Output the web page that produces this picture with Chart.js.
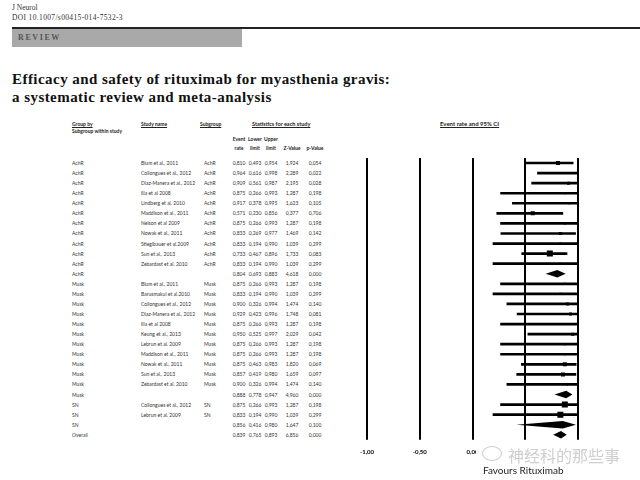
<!DOCTYPE html>
<html>
<head>
<meta charset="utf-8">
<script src="https://cdn.jsdelivr.net/npm/chart.js@4.4.1/dist/chart.umd.min.js"></script>
<style>
html, body { margin: 0; padding: 0; background: #fff; }
body { width: 640px; height: 480px; position: relative; overflow: hidden; font-family: Lato, "Open Sans", sans-serif; color: #222; }
.abs { position: absolute; white-space: nowrap; }
#journal { left: 12px; top: 3px; font: 7.5px "Liberation Serif", serif; color: #333; }
#doi { left: 12px; top: 13px; font: 7.5px "Liberation Serif", serif; color: #333; letter-spacing: 0.35px; }
#rule { left: 12px; top: 27px; width: 628px; height: 2px; background: #222; }
#review { left: 12px; top: 29px; width: 230px; height: 18px; background: #a9a9a9; }
#review span { position: absolute; left: 6px; top: 4px; font: bold 8px "Liberation Serif", serif; letter-spacing: 1.6px; color: #555; }
#title { left: 12px; top: 70px; font: bold 15px "Liberation Serif", serif; line-height: 18px; letter-spacing: 0.45px; color: #111; }
.th { font-size: 5px; font-weight: bold; line-height: 6px; color: #222; }
.u { text-decoration: underline; }
.cell { font-size: 5px; line-height: 8px; color: #333; }
.num { width: 20px; text-align: center; }
#chartWrap { position: absolute; left: 350px; top: 150px; width: 250px; height: 311px; }
#favours { left: 483px; top: 464px; font-size: 10px; color: #222; }
#wm { left: 476px; top: 443px; width: 150px; height: 20px; background: rgba(255,255,255,0.9); }
#wm span { position: absolute; left: 32px; top: 0px; font: 16px "Noto Sans CJK SC", sans-serif; color: #cfcfcf; }
#wm i { position: absolute; left: 6px; top: 3px; width: 18px; height: 13px; border: 1px solid #cfcfcf; border-radius: 50%; }
</style>
</head>
<body>
<div class="abs" id="journal">J Neurol</div>
<div class="abs" id="doi">DOI 10.1007/s00415-014-7532-3</div>
<div class="abs" id="rule"></div>
<div class="abs" id="review"><span>REVIEW</span></div>
<div class="abs" id="title">Efficacy and safety of rituximab for myasthenia gravis:<br>a systematic review and meta-analysis</div>

<div class="abs th u" style="left:72px;top:121px">Group by</div>
<div class="abs th u" style="left:141px;top:121px">Study name</div>
<div class="abs th u" style="left:200px;top:121px">Subgroup</div>
<div class="abs th u" style="left:252px;top:121px;font-size:5.5px">Statistics for each study</div>
<div class="abs th" style="left:72px;top:128px">Subgroup within study</div>
<div class="abs th num" style="left:229px;top:136px">Event</div>
<div class="abs th num" style="left:245px;top:136px">Lower</div>
<div class="abs th num" style="left:261px;top:136px">Upper</div>
<div class="abs th num" style="left:229px;top:145px">rate</div>
<div class="abs th num" style="left:245px;top:145px">limit</div>
<div class="abs th num" style="left:261px;top:145px">limit</div>
<div class="abs th num" style="left:282px;top:145px">Z-Value</div>
<div class="abs th num" style="left:305px;top:145px">p-Value</div>
<div class="abs th u" style="left:440px;top:121px;font-size:6px">Event rate and 95% CI</div>

<div id="table"></div>
<div id="chartWrap"><canvas id="forest" width="250" height="311"></canvas></div>
<div class="abs" id="wm"><i></i><span>神经科的那些事</span></div>
<div class="abs" id="favours">Favours Rituximab</div>

<script>
// ========== DADOS ==========
const groupBy = [
    'AchR', 'AchR', 'AchR', 'AchR', 'AchR', 'AchR', 'AchR', 'AchR', 'AchR', 'AchR', 'AchR', 'AchR',
    'Musk', 'Musk', 'Musk', 'Musk', 'Musk', 'Musk', 'Musk', 'Musk', 'Musk', 'Musk', 'Musk', 'Musk',
    'SN', 'SN', 'SN',
    'Overall'
];
const studyNames = [
    'Blum et al., 2011', 'Collongues et al., 2012', 'Diaz-Manera et al., 2012', 'Illa et al 2008',
    'Lindberg et al. 2010', 'Maddison et al., 2011', 'Nelson et al 2009', 'Nowak et al., 2011',
    'Stieglbauer et al.2009', 'Sun et al., 2013', 'Zebardast et al. 2010', '',
    'Blum et al., 2011', 'Barusmakul et al.2010', 'Collongues et al., 2012', 'Diaz-Manera et al., 2012',
    'Illa et al 2008', 'Keung et al., 2013', 'Lebrun et al. 2009', 'Maddison et al., 2011',
    'Nowak et al., 2011', 'Sun et al., 2013', 'Zebardast et al. 2010', '',
    'Collongues et al., 2012', 'Lebrun et al. 2009', '',
    ''
];
const subgroups = [
    'AchR', 'AchR', 'AchR', 'AchR', 'AchR', 'AchR', 'AchR', 'AchR', 'AchR', 'AchR', 'AchR', '',
    'Musk', 'Musk', 'Musk', 'Musk', 'Musk', 'Musk', 'Musk', 'Musk', 'Musk', 'Musk', 'Musk', '',
    'SN', 'SN', '',
    ''
];
const eventRate = [
    0.810, 0.964, 0.909, 0.875, 0.917, 0.571, 0.875, 0.833, 0.833, 0.733, 0.833, 0.804,
    0.875, 0.833, 0.900, 0.929, 0.875, 0.950, 0.875, 0.875, 0.875, 0.857, 0.900, 0.888,
    0.875, 0.833, 0.856,
    0.839
];
const lowerLimit = [
    0.493, 0.616, 0.561, 0.266, 0.378, 0.230, 0.266, 0.269, 0.194, 0.467, 0.194, 0.693,
    0.266, 0.194, 0.326, 0.423, 0.266, 0.525, 0.266, 0.266, 0.463, 0.419, 0.326, 0.778,
    0.266, 0.194, 0.416,
    0.765
];
const upperLimit = [
    0.954, 0.998, 0.987, 0.993, 0.995, 0.856, 0.993, 0.977, 0.990, 0.896, 0.990, 0.883,
    0.993, 0.990, 0.994, 0.996, 0.993, 0.997, 0.993, 0.993, 0.983, 0.980, 0.994, 0.947,
    0.993, 0.990, 0.980,
    0.893
];
const zValue = [
    1.924, 2.289, 2.195, 1.287, 1.623, 0.377, 1.287, 1.469, 1.039, 1.733, 1.039, 4.618,
    1.287, 1.039, 1.474, 1.748, 1.287, 2.029, 1.287, 1.287, 1.820, 1.659, 1.474, 4.960,
    1.287, 1.039, 1.647,
    6.856
];
const pValue = [
    0.054, 0.022, 0.028, 0.198, 0.105, 0.706, 0.198, 0.142, 0.299, 0.083, 0.299, 0.000,
    0.198, 0.299, 0.140, 0.081, 0.198, 0.042, 0.198, 0.198, 0.069, 0.097, 0.140, 0.000,
    0.198, 0.299, 0.100,
    0.000
];
// peso relativo de cada estudo (tamanho do quadrado)
const studyWeight = [
    4, 2, 3, 2, 2, 4, 2, 3, 2, 6, 2, 0,
    2, 2, 3, 3, 2, 3, 2, 2, 4, 4, 2, 0,
    6, 6, 0,
    0
];
const axisTicks = [-1, -0.5, 0, 0.5, 1];

// ========== HELPERS ==========
function fmt(v) {
    return v.toFixed(3).replace('.', ',');
}
function isSummary(i) {
    return studyNames[i] === '';
}

// ========== GRÁFICO ==========
const ciData = [];
const pointData = [];
const pointRadius = [];
eventRate.forEach((r, i) => {
    if (isSummary(i)) return;
    ciData.push({ x: [lowerLimit[i], upperLimit[i]], y: i });
    pointData.push({ x: r, y: i });
    pointRadius.push(studyWeight[i] / Math.SQRT2);
});

// linhas verticais de referência em cada tick do eixo x
const refLinesPlugin = {
    id: 'refLines',
    beforeDatasetsDraw(chart) {
        const { ctx, chartArea, scales: { x } } = chart;
        ctx.save();
        ctx.strokeStyle = '#000';
        ctx.lineWidth = 2;
        axisTicks.forEach(v => {
            const px = Math.round(x.getPixelForValue(v));
            ctx.beginPath();
            ctx.moveTo(px, chartArea.top);
            ctx.lineTo(px, chartArea.bottom);
            ctx.stroke();
        });
        ctx.restore();
    }
};

// losangos dos resumos (subgrupos e geral)
const diamondPlugin = {
    id: 'diamonds',
    afterDatasetsDraw(chart) {
        const { ctx, scales: { x, y } } = chart;
        ctx.save();
        ctx.fillStyle = '#000';
        eventRate.forEach((r, i) => {
            if (!isSummary(i)) return;
            const yc = y.getPixelForValue(i);
            const h = 3.8;
            ctx.beginPath();
            ctx.moveTo(x.getPixelForValue(lowerLimit[i]), yc);
            ctx.lineTo(x.getPixelForValue(r), yc - h);
            ctx.lineTo(x.getPixelForValue(upperLimit[i]), yc);
            ctx.lineTo(x.getPixelForValue(r), yc + h);
            ctx.closePath();
            ctx.fill();
        });
        ctx.restore();
    }
};

const forestChart = new Chart(document.getElementById('forest').getContext('2d'), {
    type: 'scatter',
    data: {
        datasets: [{
            type: 'bar',
            indexAxis: 'y',
            data: ciData,
            backgroundColor: '#000',
            borderWidth: 0,
            barThickness: 2
        }, {
            type: 'scatter',
            data: pointData,
            pointStyle: 'rect',
            pointRadius: pointRadius,
            backgroundColor: '#000',
            borderWidth: 0
        }]
    },
    options: {
        responsive: false,
        animation: false,
        layout: { padding: { left: 17, right: 22, top: 8, bottom: 4 } },
        plugins: {
            legend: { display: false },
            tooltip: { enabled: false }
        },
        scales: {
            x: {
                type: 'linear',
                min: -1,
                max: 1,
                offset: false,
                afterBuildTicks: function(scale) {
                    scale.ticks = axisTicks.map(v => ({ value: v }));
                },
                grid: { display: false },
                border: { display: false },
                ticks: {
                    autoSkip: false,
                    maxRotation: 0,
                    padding: 1,
                    color: '#000',
                    font: { size: 6, weight: 'bold', family: 'Lato' },
                    callback: function(value) {
                        return value.toFixed(2).replace('.', ',');
                    }
                }
            },
            y: {
                type: 'linear',
                reverse: true,
                offset: false,
                min: -0.5,
                max: 27.5,
                display: false,
                grid: { offset: false }
            }
        }
    },
    plugins: [refLinesPlugin, diamondPlugin]
});

// ========== TABELA ==========
const table = document.getElementById('table');
const wrap = document.getElementById('chartWrap');
const yScale = forestChart.scales.y;
const numCols = [229, 245, 261, 282, 305];
eventRate.forEach((r, i) => {
    const top = wrap.offsetTop + yScale.getPixelForValue(i) - 4;
    const cells = [
        [72, groupBy[i]],
        [141, studyNames[i]],
        [204, subgroups[i]]
    ];
    [eventRate[i], lowerLimit[i], upperLimit[i], zValue[i], pValue[i]].forEach((v, k) => {
        cells.push([numCols[k], fmt(v), true]);
    });
    cells.forEach(([left, text, isNum]) => {
        if (!text) return;
        const d = document.createElement('div');
        d.className = 'abs cell' + (isNum ? ' num' : '');
        d.style.left = left + 'px';
        d.style.top = top + 'px';
        d.textContent = text;
        table.appendChild(d);
    });
});
</script>
</body>
</html>
